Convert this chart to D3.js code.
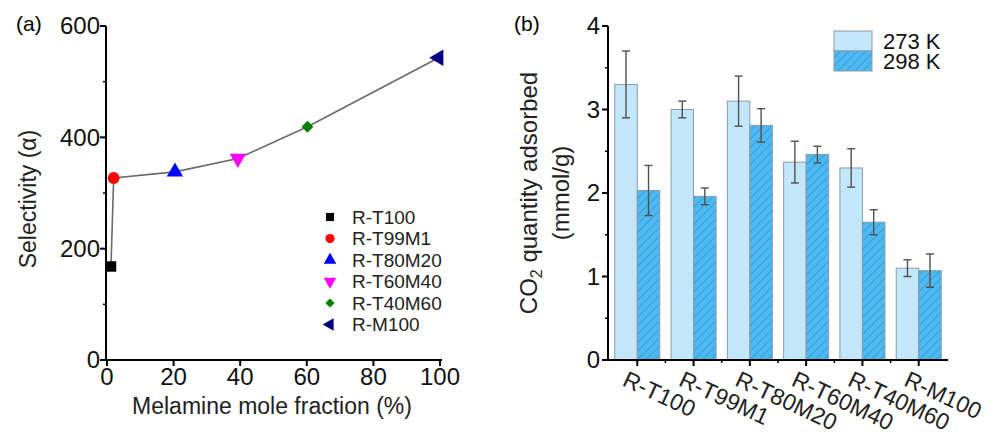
<!DOCTYPE html>
<html>
<head>
<meta charset="utf-8">
<script src="https://cdn.jsdelivr.net/npm/d3@7"></script>
<style>
  body { margin: 0; background: #fff; }
  svg { font-family: "Liberation Sans", Arial, sans-serif; }
</style>
</head>
<body>
<div id="chart"></div>
<script>
/* DATA */
const samples = ["R-T100", "R-T99M1", "R-T80M20", "R-T60M40", "R-T40M60", "R-M100"];
// panel (a)
const fraction = [1.2, 2, 20.4, 39.3, 60.2, 99.6];
const selectivity = [168, 327, 338, 362, 419, 543];
const markerColors = ["#000000", "#ff0000", "#0000ff", "#ff00ff", "#008000", "#000080"];
const selTicks = [0, 200, 400, 600];
const fracTicks = [0, 20, 40, 60, 80, 100];
// panel (b)
const temps = ["273 K", "298 K"];
const ads273 = [3.30, 3.00, 3.10, 2.37, 2.30, 1.10];
const err273 = [0.40, 0.10, 0.30, 0.25, 0.23, 0.10];
const ads298 = [2.03, 1.96, 2.81, 2.46, 1.65, 1.07];
const err298 = [0.30, 0.10, 0.20, 0.10, 0.15, 0.20];
const adsTicks = [0, 1, 2, 3, 4];

const width = 995, height = 434;
const tickFont = 24, titleFont = 23;

const svg = d3.select("#chart").append("svg")
  .attr("width", width)
  .attr("height", height);

/* ---------- panel (a) ---------- */
const xA = d3.scaleLinear().domain([0, 100]).range([107, 440]);
const yA = d3.scaleLinear().domain([0, 600]).range([360, 26]);

const gA = svg.append("g");

// axis lines
gA.append("line").attr("x1", xA(0) - 6).attr("x2", xA(100) + 2)
  .attr("y1", yA(0)).attr("y2", yA(0)).attr("stroke", "#000").attr("stroke-width", 2);
gA.append("line").attr("x1", xA(0) - 1).attr("x2", xA(0) - 1)
  .attr("y1", yA(0)).attr("y2", yA(600)).attr("stroke", "#000").attr("stroke-width", 2);

// x ticks
gA.selectAll(".xt").data(fracTicks).join("line")
  .attr("x1", d => xA(d)).attr("x2", d => xA(d))
  .attr("y1", yA(0)).attr("y2", yA(0) + 6)
  .attr("stroke", "#000").attr("stroke-width", 2);
gA.selectAll(".xl").data(fracTicks).join("text")
  .attr("x", d => xA(d)).attr("y", 385)
  .attr("text-anchor", "middle").attr("font-size", tickFont).attr("fill", "#111")
  .text(d => d);

// y ticks
gA.selectAll(".yt").data(selTicks).join("line")
  .attr("x1", xA(0) - 7).attr("x2", xA(0) - 1)
  .attr("y1", d => yA(d)).attr("y2", d => yA(d))
  .attr("stroke", "#000").attr("stroke-width", 2);
gA.selectAll(".ym").data([100, 300, 500]).join("line")
  .attr("x1", xA(0) - 4).attr("x2", xA(0) - 1)
  .attr("y1", d => yA(d)).attr("y2", d => yA(d))
  .attr("stroke", "#000").attr("stroke-width", 1.5);
gA.selectAll(".yl").data(selTicks).join("text")
  .attr("x", 100).attr("y", d => yA(d)).attr("dy", "0.35em")
  .attr("text-anchor", "end").attr("font-size", tickFont).attr("fill", "#111")
  .text(d => d);

// titles
gA.append("text")
  .attr("transform", `translate(36,${(yA(0) + yA(600)) / 2 + 6}) rotate(-90)`)
  .attr("text-anchor", "middle").attr("font-size", titleFont).attr("fill", "#222")
  .text("Selectivity (α)");
gA.append("text")
  .attr("x", 272).attr("y", 414)
  .attr("text-anchor", "middle").attr("font-size", titleFont)
  .attr("fill", "#222")
  .text("Melamine mole fraction (%)");
gA.append("text").attr("x", 16).attr("y", 31).attr("font-size", 21).text("(a)");

// line
const ptsA = fraction.map((f, i) => [xA(f), yA(selectivity[i])]);
gA.append("path")
  .attr("d", d3.line()(ptsA))
  .attr("fill", "none").attr("stroke", "#6a6a6a").attr("stroke-width", 1.6);

// markers
const shapes = [
  { type: d3.symbolSquare, rot: 0, size: 110 },
  { type: d3.symbolCircle, rot: 0, size: 110 },
  { type: d3.symbolTriangle, rot: 0, size: 115 },
  { type: d3.symbolTriangle, rot: 180, size: 115 },
  { type: d3.symbolSquare, rot: 45, size: 70 },
  { type: d3.symbolTriangle, rot: -90, size: 115 }
];
gA.selectAll(".mk").data(samples).join("path")
  .attr("transform", (d, i) => `translate(${ptsA[i][0]},${ptsA[i][1]}) rotate(${shapes[i].rot})`)
  .attr("d", (d, i) => d3.symbol(shapes[i].type, shapes[i].size)())
  .attr("fill", (d, i) => markerColors[i]);

// legend
const legA = gA.append("g");
samples.forEach((s, i) => {
  const y = 217 + i * 21.5;
  legA.append("path")
    .attr("transform", `translate(330,${y}) rotate(${shapes[i].rot})`)
    .attr("d", d3.symbol(shapes[i].type, shapes[i].size * 0.6)())
    .attr("fill", markerColors[i]);
  legA.append("text")
    .attr("x", 352).attr("y", y).attr("dy", "0.36em")
    .attr("font-size", 19).attr("fill", "#222")
    .text(s);
});

/* ---------- panel (b) ---------- */
const x0 = d3.scaleBand().domain(samples).range([608, 948])
  .paddingInner(0.2).paddingOuter(0.12);
const x1 = d3.scaleBand().domain(temps).range([0, x0.bandwidth()]);
const yB = d3.scaleLinear().domain([0, 4]).range([360, 26]);

const gB = svg.append("g");

const defs = svg.append("defs");
const pat = defs.append("pattern")
  .attr("id", "hatch").attr("patternUnits", "userSpaceOnUse")
  .attr("width", 6).attr("height", 6)
  .attr("patternTransform", "rotate(45)");
pat.append("rect").attr("width", 6).attr("height", 6).attr("fill", "#4db9f2");
pat.append("line").attr("x1", 0).attr("x2", 0).attr("y1", 0).attr("y2", 6)
  .attr("stroke", "#2a78aa").attr("stroke-width", 0.9);

const fills = { "273 K": "#c2e7fb", "298 K": "url(#hatch)" };

const rows = samples.map((s, i) => ({
  sample: s,
  values: [
    { temp: "273 K", v: ads273[i], e: err273[i] },
    { temp: "298 K", v: ads298[i], e: err298[i] }
  ]
}));

const grp = gB.selectAll(".grp").data(rows).join("g")
  .attr("transform", d => `translate(${x0(d.sample)},0)`);

grp.selectAll("rect").data(d => d.values).join("rect")
  .attr("x", d => x1(d.temp))
  .attr("y", d => yB(d.v))
  .attr("width", x1.bandwidth())
  .attr("height", d => yB(0) - yB(d.v))
  .attr("fill", d => fills[d.temp])
  .attr("stroke", "#8c9ba6").attr("stroke-width", 1);

// error bars
const eb = grp.selectAll(".eb").data(d => d.values).join("g")
  .attr("stroke", "#505050").attr("stroke-width", 1.4);
eb.append("line")
  .attr("x1", d => x1(d.temp) + x1.bandwidth() / 2)
  .attr("x2", d => x1(d.temp) + x1.bandwidth() / 2)
  .attr("y1", d => yB(d.v + d.e)).attr("y2", d => yB(d.v - d.e));
eb.append("line")
  .attr("x1", d => x1(d.temp) + x1.bandwidth() / 2 - 4)
  .attr("x2", d => x1(d.temp) + x1.bandwidth() / 2 + 4)
  .attr("y1", d => yB(d.v + d.e)).attr("y2", d => yB(d.v + d.e));
eb.append("line")
  .attr("x1", d => x1(d.temp) + x1.bandwidth() / 2 - 4)
  .attr("x2", d => x1(d.temp) + x1.bandwidth() / 2 + 4)
  .attr("y1", d => yB(d.v - d.e)).attr("y2", d => yB(d.v - d.e));

// axes
gB.append("line").attr("x1", 603).attr("x2", 948)
  .attr("y1", yB(0)).attr("y2", yB(0)).attr("stroke", "#000").attr("stroke-width", 2);
gB.append("line").attr("x1", 608).attr("x2", 608)
  .attr("y1", yB(0)).attr("y2", yB(4)).attr("stroke", "#000").attr("stroke-width", 2);

gB.selectAll(".yt").data(adsTicks).join("line")
  .attr("x1", 602).attr("x2", 608)
  .attr("y1", d => yB(d)).attr("y2", d => yB(d))
  .attr("stroke", "#000").attr("stroke-width", 2);
gB.selectAll(".ym").data([0.5, 1.5, 2.5, 3.5]).join("line")
  .attr("x1", 605).attr("x2", 608)
  .attr("y1", d => yB(d)).attr("y2", d => yB(d))
  .attr("stroke", "#000").attr("stroke-width", 1.5);
gB.selectAll(".yl").data(adsTicks).join("text")
  .attr("x", 600).attr("y", d => yB(d)).attr("dy", "0.35em")
  .attr("text-anchor", "end").attr("font-size", tickFont).attr("fill", "#111")
  .text(d => d);

// x ticks
const step = x0.step();
gB.selectAll(".xt").data(samples).join("line")
  .attr("x1", d => x0(d) + x0.bandwidth() / 2).attr("x2", d => x0(d) + x0.bandwidth() / 2)
  .attr("y1", yB(0)).attr("y2", yB(0) + 6)
  .attr("stroke", "#000").attr("stroke-width", 2);
gB.selectAll(".xm").data(samples.slice(1)).join("line")
  .attr("x1", d => x0(d) - (step - x0.bandwidth()) / 2)
  .attr("x2", d => x0(d) - (step - x0.bandwidth()) / 2)
  .attr("y1", yB(0)).attr("y2", yB(0) + 3)
  .attr("stroke", "#000").attr("stroke-width", 1.5);
gB.selectAll(".xl").data(samples).join("text")
  .attr("transform", d => `translate(${x0(d) + x0.bandwidth() / 2 - 16},385) rotate(25)`)
  .attr("font-size", titleFont).attr("fill", "#222")
  .text(d => d);

// titles
const yMid = (yB(0) + yB(4)) / 2;
const t1 = gB.append("text")
  .attr("transform", `translate(537,${yMid}) rotate(-90)`)
  .attr("text-anchor", "middle").attr("font-size", 24).attr("fill", "#222");
t1.append("tspan").text("CO");
t1.append("tspan").attr("font-size", 16).attr("dy", 5).text("2");
t1.append("tspan").attr("dy", -5).text(" quantity adsorbed");
gB.append("text")
  .attr("transform", `translate(569,${yMid}) rotate(-90)`)
  .attr("text-anchor", "middle").attr("font-size", 24).attr("fill", "#222")
  .text("(mmol/g)");
gB.append("text").attr("x", 514).attr("y", 31).attr("font-size", 21).text("(b)");

// legend
temps.forEach((t, i) => {
  const y = 31 + i * 20;
  gB.append("rect").attr("x", 834).attr("y", y).attr("width", 38).attr("height", 20)
    .attr("fill", fills[t]).attr("stroke", "#8c9ba6").attr("stroke-width", 1);
  gB.append("text").attr("x", 883).attr("y", y + 10).attr("dy", "0.36em")
    .attr("font-size", 22).attr("fill", "#111").text(t);
});
</script>
</body>
</html>
